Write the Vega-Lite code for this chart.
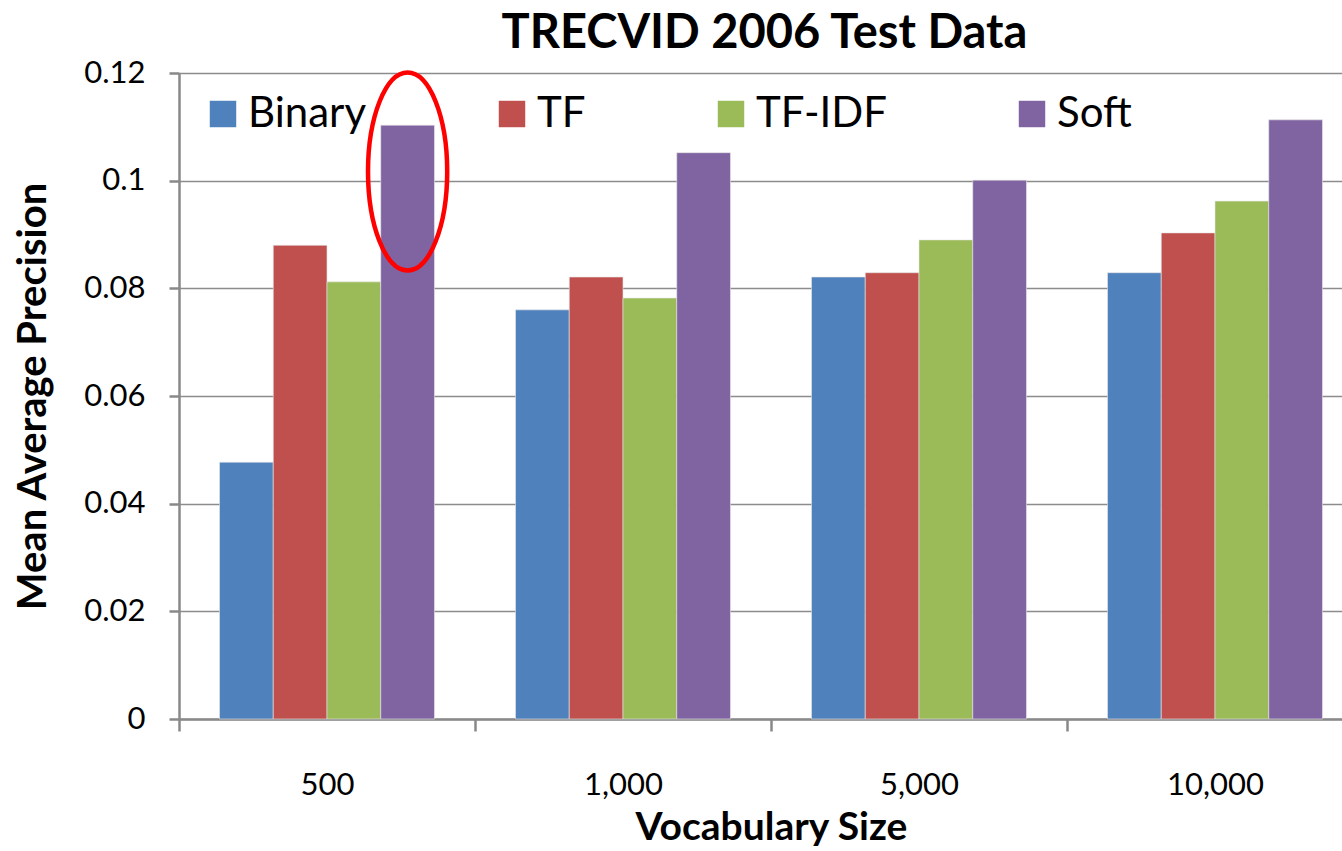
{
  "$schema": "https://vega.github.io/schema/vega-lite/v6.json",
  "autosize": {"type": "none"},
  "width": 1163,
  "height": 646,
  "padding": {"left": 179, "top": 73, "right": 0, "bottom": 132},
  "background": "white",
  "config": {
    "font": "Lato",
    "view": {"stroke": null},
    "axis": {"labelFont": "Lato", "titleFont": "Lato", "labelColor": "black", "titleColor": "black"}
  },
  "title": {
    "text": "TRECVID 2006 Test Data",
    "font": "Lato",
    "fontSize": 47,
    "fontWeight": "bold",
    "color": "black",
    "anchor": "middle",
    "dx": 4,
    "offset": -1
  },
  "layer": [
    {
      "data": {
        "values": [
          {"size": "500", "method": "Binary", "map": 0.0477},
          {"size": "500", "method": "TF", "map": 0.0880},
          {"size": "500", "method": "TF-IDF", "map": 0.0812},
          {"size": "500", "method": "Soft", "map": 0.1103},
          {"size": "1,000", "method": "Binary", "map": 0.0760},
          {"size": "1,000", "method": "TF", "map": 0.0821},
          {"size": "1,000", "method": "TF-IDF", "map": 0.0782},
          {"size": "1,000", "method": "Soft", "map": 0.1052},
          {"size": "5,000", "method": "Binary", "map": 0.0821},
          {"size": "5,000", "method": "TF", "map": 0.0829},
          {"size": "5,000", "method": "TF-IDF", "map": 0.0890},
          {"size": "5,000", "method": "Soft", "map": 0.1001},
          {"size": "10,000", "method": "Binary", "map": 0.0829},
          {"size": "10,000", "method": "TF", "map": 0.0903},
          {"size": "10,000", "method": "TF-IDF", "map": 0.0962},
          {"size": "10,000", "method": "Soft", "map": 0.1113}
        ]
      },
      "mark": {"type": "bar", "stroke": "#e8e8e8", "strokeWidth": 0.6},
      "encoding": {
        "x": {
          "field": "size", "type": "nominal",
          "sort": ["500", "1,000", "5,000", "10,000"],
          "scale": {"range": [0, 1184], "paddingInner": 0, "paddingOuter": 0},
          "axis": {
            "title": "Vocabulary Size",
            "titleFontSize": 39, "titleFontWeight": "bold", "titlePadding": 8,
            "labelFontSize": 31, "labelAngle": 0, "labelPadding": 39,
            "tickBand": "extent", "tickSize": 12, "tickColor": "#898989", "tickWidth": 2.5,
            "domainColor": "#898989", "domainWidth": 2.5
          }
        },
        "xOffset": {
          "field": "method", "type": "nominal",
          "sort": ["Binary", "TF", "TF-IDF", "Soft"],
          "scale": {"paddingInner": 0, "paddingOuter": 0.754}
        },
        "y": {
          "field": "map", "type": "quantitative",
          "scale": {"domain": [0, 0.12], "nice": false},
          "axis": {
            "title": "Mean Average Precision",
            "titleFontSize": 40, "titleFontWeight": "bold", "titlePadding": 30,
            "values": [0, 0.02, 0.04, 0.06, 0.08, 0.1, 0.12],
            "format": ".2~f",
            "labelFontSize": 31, "labelPadding": 24,
            "tickSize": 10, "tickColor": "#898989", "tickWidth": 2.5,
            "domainColor": "#898989", "domainWidth": 2.5,
            "grid": true, "gridColor": "#8c8c8c", "gridWidth": 1.5
          }
        },
        "color": {
          "field": "method", "type": "nominal",
          "sort": ["Binary", "TF", "TF-IDF", "Soft"],
          "scale": {"domain": ["Binary", "TF", "TF-IDF", "Soft"], "range": ["#4F81BD", "#C0504D", "#9BBB59", "#8064A2"]},
          "legend": {
            "title": null,
            "orient": "none",
            "legendX": 23,
            "legendY": 20,
            "direction": "horizontal",
            "padding": 0,
            "symbolType": "square",
            "symbolSize": 700,
            "symbolStrokeWidth": 0,
            "labelFont": "Lato",
            "labelFontSize": 42,
            "labelColor": "black",
            "labelOffset": 4,
            "columnPadding": 124,
            "labelLimit": 400
          }
        }
      }
    },
    {
      "data": {"values": [{"size": "500", "method": "Soft", "center": 0.1017}]},
      "mark": {
        "type": "point",
        "shape": "M0,-1 A0.4,1 0 1,1 0,1 A0.4,1 0 1,1 0,-1 Z",
        "filled": false,
        "stroke": "#FF0000",
        "strokeWidth": 4.5,
        "size": 39204,
        "opacity": 1
      },
      "encoding": {
        "x": {"field": "size", "type": "nominal", "sort": ["500", "1,000", "5,000", "10,000"]},
        "xOffset": {"field": "method", "type": "nominal", "sort": ["Binary", "TF", "TF-IDF", "Soft"]},
        "y": {"field": "center", "type": "quantitative"}
      }
    }
  ]
}
